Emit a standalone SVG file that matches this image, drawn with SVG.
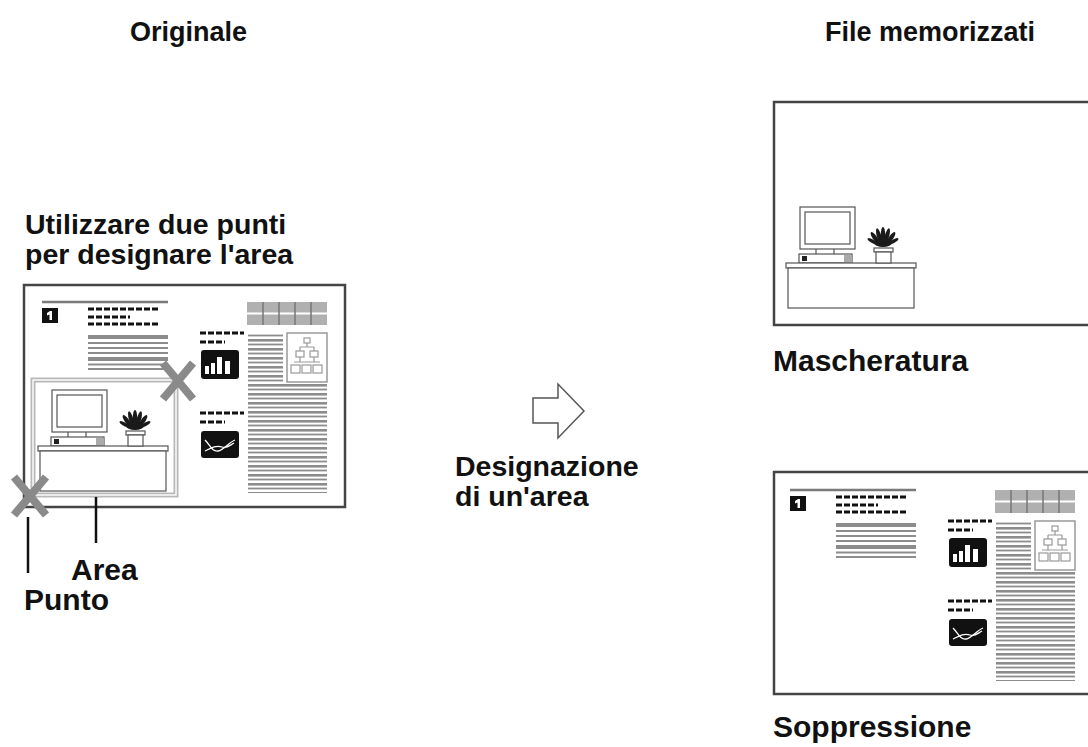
<svg xmlns="http://www.w3.org/2000/svg" width="1088" height="747" viewBox="0 0 1088 747">
<style>
  .t{font-family:"Liberation Sans",Arial,sans-serif;font-weight:bold;fill:#111}
  .title{font-size:27px}
  .lbl{font-size:30px}
  .lbl2{font-size:28.5px}
  .page{fill:#fff;stroke:#444;stroke-width:2.5}
  .rule{stroke:#7a7a7a;stroke-width:2.5}
  .dash{stroke:#111;stroke-width:3;stroke-dasharray:6 2}
  .gl{stroke:#8c8c8c}
  .thin{fill:#fff;stroke:#555;stroke-width:1.2}
  .mark{stroke:#8a8a8a;stroke-width:8}
  .ptr{stroke:#111;stroke-width:2.5}
  .area{fill:none;stroke:#b8b8b8;stroke-width:5}
  .area-in{fill:none;stroke:#fff;stroke-width:1.4}
</style>
<defs>
  <!-- ruled body text -->
  <pattern id="txt" patternUnits="userSpaceOnUse" width="10" height="9">
    <rect y="0" width="10" height="2.6" fill="#8c8c8c"/>
    <rect y="4.6" width="10" height="1.8" fill="#8c8c8c"/>
  </pattern>

  <!-- page layout: heading, text columns, table, icons -->
  <g id="layout">
    <line class="rule" x1="18" y1="17" x2="144" y2="17"/>
    <rect x="18" y="23" width="16" height="15" fill="#111"/>
    <path d="M23,28 L26,26 L28,26 L28,35 L25.5,35 L25.5,29.5 L23,30.5 Z" fill="#fff"/>
    <line class="dash" x1="64" y1="24" x2="134" y2="24"/>
    <line class="dash" x1="64" y1="32" x2="106" y2="32"/>
    <line class="dash" x1="64" y1="39" x2="134" y2="39"/>
    <g class="gl">
      <line x1="64" y1="52" x2="144" y2="52" stroke-width="4"/>
      <line x1="64" y1="58" x2="144" y2="58" stroke-width="2"/>
      <line x1="64" y1="63" x2="144" y2="63" stroke-width="2"/>
      <line x1="64" y1="68" x2="144" y2="68" stroke-width="2"/>
      <line x1="64" y1="74" x2="144" y2="74" stroke-width="4"/>
      <line x1="64" y1="79.5" x2="144" y2="79.5" stroke-width="2"/>
      <line x1="64" y1="84" x2="144" y2="84" stroke-width="2"/>
    </g>
    <!-- table -->
    <rect x="223" y="17" width="80" height="23" fill="#b0b0b0"/>
    <line x1="223" y1="28.5" x2="303" y2="28.5" stroke="#fff" stroke-width="2"/>
    <g stroke="#777" stroke-width="1.5">
      <line x1="239" y1="17" x2="239" y2="40"/>
      <line x1="255" y1="17" x2="255" y2="40"/>
      <line x1="271" y1="17" x2="271" y2="40"/>
      <line x1="287" y1="17" x2="287" y2="40"/>
    </g>
    <!-- bar chart caption and icon -->
    <line class="dash" x1="176" y1="48" x2="220" y2="48" stroke-width="2.5"/>
    <line class="dash" x1="176" y1="57" x2="201" y2="57" stroke-width="2.5"/>
    <rect x="177" y="65" width="38" height="29" rx="3" fill="#111"/>
    <g fill="#fff">
      <rect x="181" y="81" width="4" height="8"/>
      <rect x="187" y="78" width="4" height="11"/>
      <rect x="193" y="72" width="5" height="17"/>
      <rect x="201" y="76" width="5" height="13"/>
    </g>
    <!-- text columns -->
    <rect x="224" y="48" width="35" height="49" fill="url(#txt)"/>
    <rect x="224" y="99" width="79" height="109" fill="url(#txt)"/>
    <!-- org chart -->
    <rect x="263" y="48" width="40" height="49" fill="#fff" stroke="#999" stroke-width="1.5"/>
    <g fill="none" stroke="#999" stroke-width="1.2">
      <rect x="280" y="53" width="6" height="5"/>
      <path d="M283,58 V62 M276,62 H290 M276,62 V66 M290,62 V66"/>
      <rect x="272" y="66" width="8" height="6"/>
      <rect x="286" y="66" width="8" height="6"/>
      <path d="M276,72 V77 M290,72 V77 M270,77 H296"/>
      <rect x="267" y="80" width="9" height="8"/>
      <rect x="278" y="80" width="9" height="8"/>
      <rect x="289" y="80" width="9" height="8"/>
    </g>
    <!-- line chart caption and icon -->
    <line class="dash" x1="176" y1="128" x2="220" y2="128" stroke-width="2.5"/>
    <line class="dash" x1="176" y1="137" x2="201" y2="137" stroke-width="2.5"/>
    <rect x="177" y="146" width="38" height="27" rx="3" fill="#111"/>
    <g fill="none" stroke="#fff" stroke-width="1.3">
      <path d="M181,155 C186,160 188,167 194,166 C200,165 204,158 211,155"/>
      <path d="M181,166 C187,163 192,160 198,162 C203,164 206,160 210,158"/>
    </g>
  </g>

  <!-- desk scene: monitor, plant, desk -->
  <g id="scene">
    <rect class="thin" x="28" y="105" width="55" height="42"/>
    <rect class="thin" x="33" y="110" width="45" height="32"/>
    <line x1="44" y1="147" x2="44" y2="152" stroke="#555" stroke-width="1.2"/>
    <line x1="62" y1="147" x2="62" y2="152" stroke="#555" stroke-width="1.2"/>
    <rect class="thin" x="27" y="152" width="53" height="9"/>
    <rect x="30" y="154" width="5" height="5" fill="#222"/>
    <rect x="72" y="153" width="8" height="8" fill="#aaa"/>
    <rect class="thin" x="14" y="161" width="130" height="5"/>
    <rect class="thin" x="16" y="166" width="126" height="40"/>
    <rect class="thin" x="102" y="146" width="19" height="4"/>
    <rect class="thin" x="104" y="150" width="15" height="11"/>
    <g fill="#1a1a1a">
      <ellipse cx="103" cy="136" rx="2.2" ry="7" transform="rotate(-35 103 136)"/>
      <ellipse cx="107" cy="134" rx="2.2" ry="8" transform="rotate(-15 107 134)"/>
      <ellipse cx="111" cy="133" rx="2.2" ry="8"/>
      <ellipse cx="115" cy="134" rx="2.2" ry="8" transform="rotate(15 115 134)"/>
      <ellipse cx="119" cy="136" rx="2.2" ry="7" transform="rotate(35 119 136)"/>
      <ellipse cx="111" cy="141" rx="9" ry="4"/>
      <ellipse cx="100" cy="139" rx="1.8" ry="5" transform="rotate(-60 100 139)"/>
      <ellipse cx="122" cy="139" rx="1.8" ry="5" transform="rotate(60 122 139)"/>
    </g>
  </g>
</defs>

<!-- column headings -->
<g id="headings">
  <text class="t title" x="130" y="41">Originale</text>
  <text class="t title" x="825" y="41">File memorizzati</text>
</g>

<!-- original page with the selected area -->
<g id="original">
  <text class="t lbl2" x="25" y="234"><tspan x="25" y="234">Utilizzare due punti</tspan><tspan x="25" y="264">per designare l'area</tspan></text>
  <g transform="translate(24,285)">
    <rect class="page" x="0" y="0" width="321" height="222"/>
    <use href="#layout"/>
    <use href="#scene"/>
  </g>
  <rect class="area" x="33" y="380" width="143" height="115"/>
  <rect class="area-in" x="33" y="380" width="143" height="115"/>
  <g class="mark">
    <line x1="163" y1="363" x2="193" y2="399"/>
    <line x1="193" y1="363" x2="163" y2="399"/>
    <line x1="14" y1="477" x2="46" y2="515"/>
    <line x1="46" y1="477" x2="14" y2="515"/>
  </g>
  <text class="t lbl" x="71" y="580">Area</text>
  <text class="t lbl" x="24" y="610">Punto</text>
</g>

<!-- operation -->
<g id="designate">
  <text class="t lbl2" x="455" y="476"><tspan x="455" y="476">Designazione</tspan><tspan x="455" y="506">di un'area</tspan></text>
</g>

<!-- stored file: masking -->
<g id="stored-mask">
  <g transform="translate(774,102)">
    <rect class="page" x="0" y="0" width="321" height="223"/>
    <use href="#scene" transform="translate(-2,0)"/>
  </g>
  <text class="t lbl" x="773" y="371">Mascheratura</text>
</g>

<!-- stored file: deletion -->
<g id="stored-delete">
  <g transform="translate(774,472)">
    <rect class="page" x="0" y="0" width="321" height="222"/>
    <use href="#layout" transform="translate(-2,1)"/>
  </g>
  <text class="t lbl" x="773" y="737">Soppressione</text>
</g>

<!-- connectors -->
<g id="connectors">
  <path d="M533,398 H558 V384 L584,411 L558,438 V423 H533 Z" fill="#fff" stroke="#555" stroke-width="1.5" stroke-linejoin="miter"/>
  <line class="ptr" x1="96" y1="497" x2="96" y2="543"/>
  <line class="ptr" x1="28" y1="517" x2="28" y2="573"/>
</g>
</svg>
